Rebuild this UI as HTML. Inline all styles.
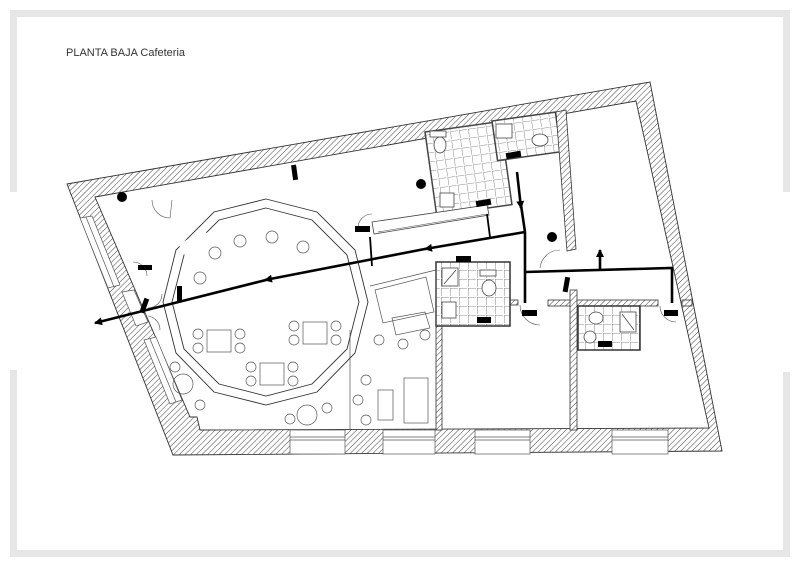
<!DOCTYPE html>
<html><head><meta charset="utf-8"><style>
html,body{margin:0;padding:0;background:#fff;width:800px;height:566px;overflow:hidden}
svg{display:block}
</style></head><body>
<svg width="800" height="566" viewBox="0 0 800 566" xmlns="http://www.w3.org/2000/svg">
<defs>
<pattern id="h" width="4" height="4" patternUnits="userSpaceOnUse" patternTransform="rotate(45)">
<rect width="4" height="4" fill="#fff"/><line x1="0" y1="0" x2="0" y2="4" stroke="#444" stroke-width="1"/>
</pattern>
<pattern id="t" width="9" height="9" patternUnits="userSpaceOnUse">
<rect width="9" height="9" fill="#fff"/><path d="M0 0H8M0 0V8" stroke="#666" stroke-width="0.8" fill="none"/>
</pattern>
<marker id="a" markerWidth="8" markerHeight="8" refX="7" refY="4" orient="auto" markerUnits="userSpaceOnUse"><path d="M0 0L8 4L0 8z" fill="#000"/></marker>
</defs>
<!-- frame -->
<rect x="0" y="0" width="800" height="566" fill="#fff"/>
<rect x="13.5" y="13.5" width="773" height="540" fill="none" stroke="#e6e6e6" stroke-width="7"/>
<rect x="9" y="192" width="10" height="178" fill="#fff"/>
<rect x="781" y="192" width="10" height="180" fill="#fff"/>
<text x="66" y="56" font-family="Liberation Sans, sans-serif" font-size="11" fill="#333">PLANTA BAJA Cafeteria</text>

<!-- outer wall -->
<path fill-rule="evenodd" fill="url(#h)" stroke="#333" stroke-width="0.9"
 d="M67 184 L650 82 L722 451 L173 455 Z
    M95 197 L636 101 L709 428 L200 430 L197 417 L190 417 Z"/>
<!-- windows bottom -->
<g fill="#fff" stroke="#555" stroke-width="0.7">
<rect x="290" y="430" width="55" height="24"/><line x1="290" y1="437" x2="345" y2="437"/><line x1="290" y1="440" x2="345" y2="440"/>
<rect x="383" y="430" width="52" height="24"/><line x1="383" y1="437" x2="435" y2="437"/><line x1="383" y1="440" x2="435" y2="440"/>
<rect x="475" y="430" width="55" height="24"/><line x1="475" y1="437" x2="530" y2="437"/><line x1="475" y1="440" x2="530" y2="440"/>
<rect x="612" y="430" width="56" height="24"/><line x1="612" y1="437" x2="668" y2="437"/><line x1="612" y1="440" x2="668" y2="440"/>
</g>
<!-- left windows -->
<g fill="#fff" stroke="#555" stroke-width="0.7">
<polygon points="80,218 92,216 120,285 108,288"/>
<polygon points="122,292 134,290 148,322 136,326"/>
<polygon points="144,340 156,337 182,400 170,404"/>
<line x1="86" y1="217" x2="114" y2="287"/><line x1="150" y1="339" x2="176" y2="402"/>
</g>

<!-- toilets top -->
<rect x="425" y="132" width="76" height="84" fill="url(#t)" stroke="#444" stroke-width="1.5" transform="rotate(-8 425 132)"/>
<rect x="492" y="121" width="64" height="40" fill="url(#t)" stroke="#444" stroke-width="1.5" transform="rotate(-8 492 121)"/>
<g fill="#fff" stroke="#444" stroke-width="0.8">
<ellipse cx="440" cy="145" rx="6" ry="8"/><rect x="430" y="131" width="16" height="6"/>
<rect x="440" y="193" width="14" height="14"/>
<rect x="496" y="124" width="16" height="14"/>
<ellipse cx="540" cy="140" rx="8" ry="6"/>
</g>
<!-- wall right partition -->
<polygon points="556,112 566,110 576,249 567,251" fill="url(#h)" stroke="#333" stroke-width="0.8"/>
<!-- counter -->
<polygon points="372,222 487,205 489,215 374,234" fill="#fff" stroke="#444" stroke-width="0.8"/>
<line x1="378" y1="232" x2="487" y2="214" stroke="#444" stroke-width="0.6"/>

<!-- horizontal wall mid -->
<g fill="url(#h)" stroke="#333" stroke-width="0.8">
<rect x="500" y="300" width="18" height="5"/>
<rect x="548" y="300" width="110" height="6"/>
<rect x="682" y="300" width="10" height="6"/>
<rect x="570" y="290" width="7" height="140"/>
<rect x="436" y="326" width="6" height="104"/>
<rect x="436" y="262" width="74" height="64" fill="url(#t)" stroke-width="1.5"/>
<rect x="578" y="306" width="62" height="44" fill="url(#t)" stroke-width="1.5"/>
</g>
<g fill="#fff" stroke="#444" stroke-width="0.8">
<rect x="442" y="268" width="16" height="18"/><line x1="444" y1="284" x2="456" y2="270"/>
<ellipse cx="489" cy="288" rx="7" ry="8"/><rect x="480" y="270" width="16" height="6"/>
<rect x="442" y="302" width="14" height="16"/>
<rect x="620" y="312" width="16" height="20"/><line x1="622" y1="314" x2="634" y2="330"/>
<ellipse cx="596" cy="318" rx="7" ry="6"/><circle cx="590" cy="337" r="6"/>
</g>

<!-- 12-gon bar -->
<g fill="none" stroke="#333" stroke-width="0.9">
<polygon points="266,199 317,212 355,250 368,302 355,353 317,392 266,405 214,392 176,353 163,302 176,250 214,212"/>
<polygon points="266,208 312,220 347,255 359,302 347,349 312,384 266,396 219,384 184,349 172,302 184,255 219,220"/>
</g>
<rect x="180" y="236" width="30" height="14" fill="#fff" transform="rotate(-30 195 243)"/>
<!-- tables & chairs -->
<g fill="none" stroke="#555" stroke-width="0.7">
<rect x="207" y="330" width="24" height="22"/><rect x="303" y="322" width="24" height="22"/><rect x="260" y="363" width="24" height="22"/>
<circle cx="198" cy="334" r="5"/><circle cx="198" cy="348" r="5"/><circle cx="240" cy="334" r="5"/><circle cx="240" cy="348" r="5"/>
<circle cx="294" cy="326" r="5"/><circle cx="294" cy="340" r="5"/><circle cx="336" cy="326" r="5"/><circle cx="336" cy="340" r="5"/>
<circle cx="251" cy="367" r="5"/><circle cx="251" cy="381" r="5"/><circle cx="293" cy="367" r="5"/><circle cx="293" cy="381" r="5"/>
<circle cx="215" cy="253" r="6"/><circle cx="240" cy="241" r="6"/><circle cx="272" cy="237" r="6"/><circle cx="303" cy="247" r="6"/><circle cx="200" cy="278" r="6"/>
<circle cx="183" cy="384" r="10"/><circle cx="307" cy="415" r="10"/><circle cx="175" cy="367" r="5"/><circle cx="200" cy="405" r="5"/>
<circle cx="290" cy="419" r="5"/><circle cx="327" cy="408" r="5"/>
<circle cx="379" cy="340" r="5"/><circle cx="403" cy="344" r="5"/><circle cx="425" cy="335" r="5"/>
<circle cx="366" cy="380" r="5"/><circle cx="358" cy="400" r="5"/><circle cx="366" cy="420" r="5"/>
<rect x="378" y="390" width="15" height="30"/><rect x="404" y="378" width="24" height="45"/>
<polygon points="375,290 426,277 434,312 383,323"/><polygon points="392,318 425,312 430,328 396,335"/>
<polyline points="370,286 436,270 436,430"/>
<line x1="350" y1="330" x2="350" y2="430"/>
</g>
<!-- doors -->
<g fill="none" stroke="#555" stroke-width="0.6">
<path d="M152 200 A18 18 0 0 0 170 218 L172 200"/>
<path d="M133 262 A14 14 0 0 1 147 276"/>
<path d="M148 308 A14 14 0 0 0 162 294"/><path d="M148 316 A14 14 0 0 1 160 330"/>
<path d="M358 228 A14 14 0 0 1 372 214"/>
<path d="M520 305 A20 20 0 0 0 540 325"/>
<path d="M540 268 A20 20 0 0 1 560 250"/>
<path d="M660 306 A16 16 0 0 0 676 322"/>
</g>

<!-- route -->
<g stroke="#000" stroke-width="2.6" fill="none">
<line x1="517" y1="172" x2="521" y2="208" marker-end="url(#a)"/>
<line x1="521" y1="205" x2="525" y2="232"/>
<line x1="525" y1="232" x2="525" y2="303"/>
<line x1="525" y1="232" x2="425" y2="249" marker-end="url(#a)"/>
<line x1="430" y1="248" x2="265" y2="280" marker-end="url(#a)"/>
<line x1="270" y1="279" x2="95" y2="323" marker-end="url(#a)"/>
<polyline points="525,272 672,268 672,303"/>
<line x1="600" y1="270" x2="600" y2="250" marker-end="url(#a)"/>
</g>
<g stroke="#000" stroke-width="1.8">
<line x1="487" y1="214" x2="490" y2="237"/>
<line x1="370" y1="237" x2="372" y2="266"/>
</g>
<!-- markers -->
<g fill="#000">
<circle cx="122" cy="197" r="5"/><circle cx="421" cy="184" r="5"/><circle cx="552" cy="237" r="5"/>
<rect x="292" y="165" width="5" height="15" transform="rotate(-8 294 172)"/>
<rect x="138" y="265" width="14" height="5"/>
<rect x="355" y="226" width="15" height="6"/>
<rect x="456" y="256" width="15" height="6"/>
<rect x="476" y="200" width="15" height="6" transform="rotate(-10 483 203)"/>
<rect x="506" y="152" width="15" height="6" transform="rotate(-10 513 155)"/>
<rect x="522" y="310" width="15" height="6"/>
<rect x="598" y="341" width="14" height="6"/>
<rect x="664" y="310" width="14" height="6"/>
<rect x="477" y="317" width="14" height="6"/>
<rect x="564" y="277" width="5" height="15" transform="rotate(10 566 284)"/>
<rect x="177" y="286" width="5" height="15"/>
<rect x="142" y="298" width="5" height="15" transform="rotate(20 144 305)"/>
</g>
</svg>
</body></html>
